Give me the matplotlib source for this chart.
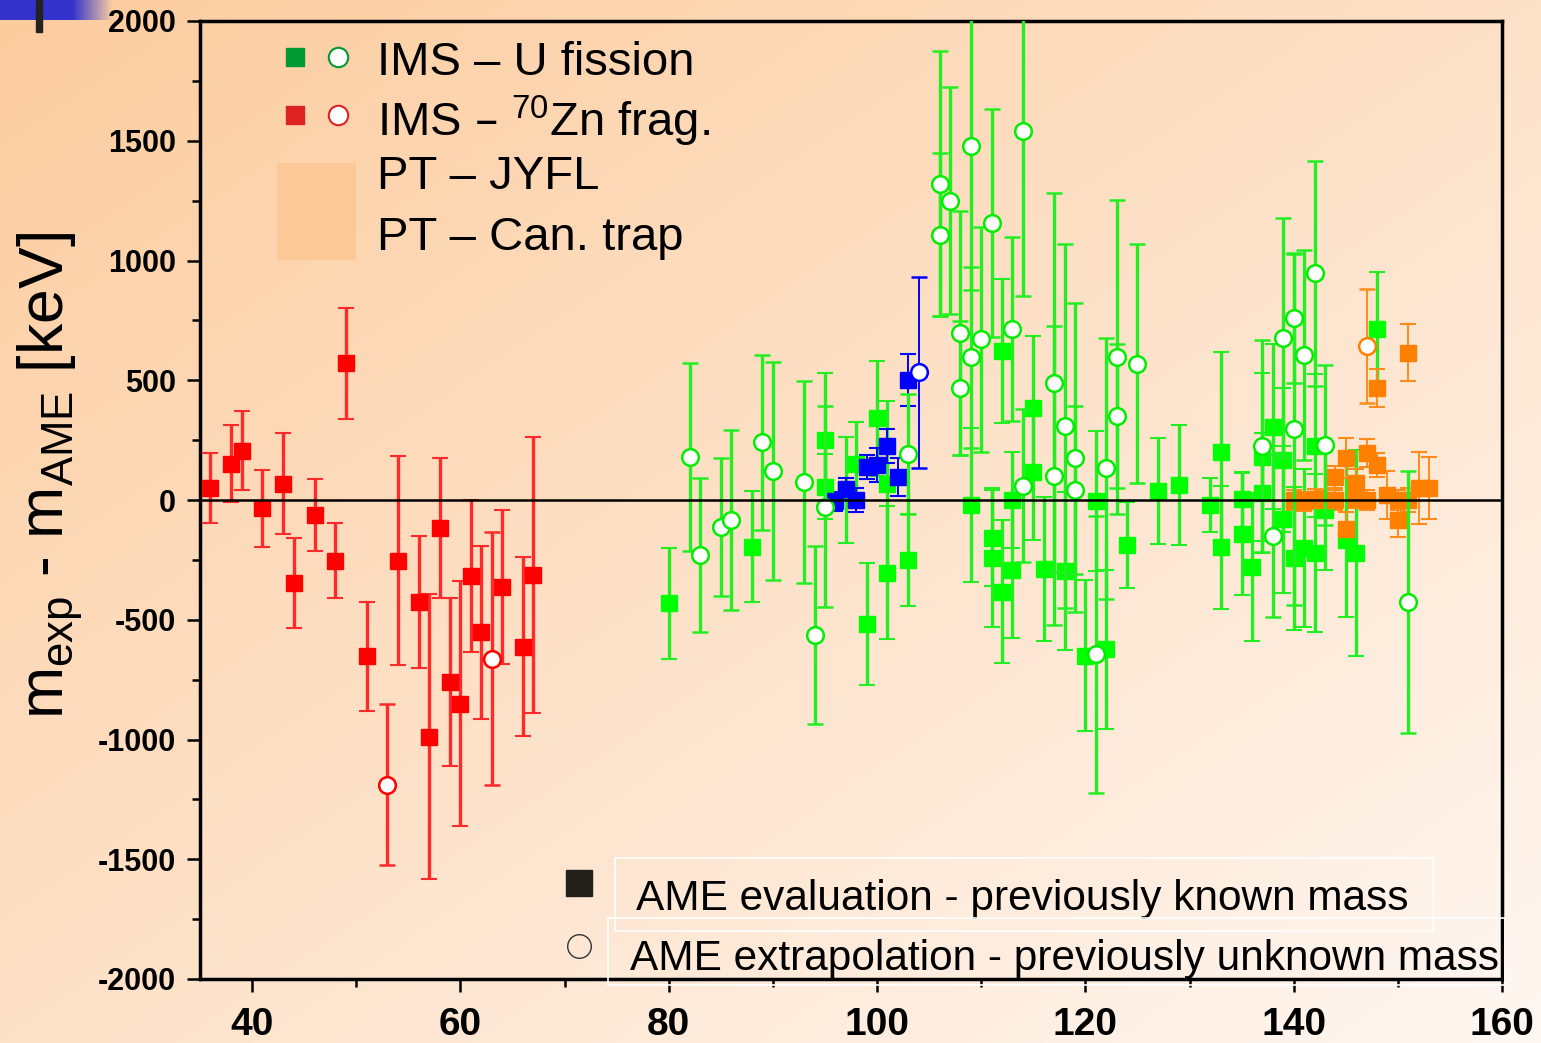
import numpy as np
import matplotlib
matplotlib.use('Agg')
import matplotlib.pyplot as plt
from matplotlib import font_manager
from matplotlib.patches import Rectangle

plt.rcParams['axes.unicode_minus'] = False

# mass number A, m_exp - m_AME [keV], uncertainty [keV]
# IMS - 70Zn fragmentation
red_known_A = [36, 38, 39, 41, 43, 44, 46, 48, 49, 51, 54, 56, 57, 58, 59, 60, 61, 62, 64, 66, 67]
red_known_dm = [50, 152, 206, -35, 68, -348, -61, -253, 570, -652, -253, -426, -989, -117, -761,
                -850, -317, -553, -362, -612, -314]
red_known_err = [145, 160, 165, 162, 210, 188, 150, 158, 230, 228, 436, 275, 595, 292, 350,
                 511, 318, 360, 322, 373, 577]
red_new_A = [53, 63]
red_new_dm = [-1189, -662]
red_new_err = [337, 529]

# IMS - U fission
green_known_A = [80, 88, 95, 95, 97, 98, 99, 100, 101, 101, 103, 109, 111, 111, 112, 112, 113, 113,
                 115, 115, 116, 118, 120, 121, 122, 124, 127, 129, 132, 133, 133, 135, 135, 136,
                 137, 137, 138, 139, 139, 140, 141, 142, 142, 143, 145, 146, 148]
green_known_dm = [-431, -195, 250, 56, 42, 150, -518, 342, 67, -303, -251, -21, -160, -241, 622,
                  -383, 0, -294, 383, 117, -288, -298, -650, -4, -624, -187, 38, 64, -21, 202,
                  -198, 3, -141, -278, 180, 29, 306, 167, -81, -244, -202, -223, 227, -42, -167,
                  -223, 713]
green_known_err = [231, 232, 280, 136, 222, 177, 255, 240, 345, 276, 192, 320, 200, 290, 300, 298,
                   200, 281, 300, 283, 300, 330, 316, 293, 333, 180, 222, 250, 112, 416, 256, 114,
                   254, 309, 350, 250, 344, 300, 306, 300, 330, 330, 300, 250, 320, 430, 238]
green_new_A = [82, 83, 85, 86, 89, 90, 93, 94, 95, 103, 106, 106, 107, 108, 108, 109, 109, 110,
               111, 113, 114, 114, 117, 117, 118, 119, 119, 121, 122, 123, 123, 125, 137, 138,
               139, 140, 140, 141, 142, 143, 151]
green_new_dm = [178, -230, -111, -84, 241, 122, 76, -564, -28, 192, 1321, 1108, 1250, 697, 469,
                1476, 596, 671, 1157, 714, 1540, 60, 490, 102, 309, 177, 43, -645, 132, 596, 351,
                569, 225, -150, 676, 759, 296, 605, 947, 230, -425]
green_new_err = [392, 322, 288, 376, 365, 456, 422, 372, 420, 250, 554, 340, 475, 510, 280, 600,
                 377, 470, 476, 383, 688, 320, 790, 625, 760, 645, 350, 578, 545, 655, 300, 500,
                 443, 340, 500, 270, 734, 440, 470, 333, 547]

# PT - JYFL
blue_known_A = [96, 97, 98, 99, 100, 101, 102, 103]
blue_known_dm = [-6, 46, 0, 136, 146, 225, 95, 501]
blue_known_err = [40, 45, 50, 50, 70, 70, 80, 108]
blue_new_A = [104]
blue_new_dm = [533]
blue_new_err = [400]

# PT - Can. trap
orange_known_A = [140, 141, 142, 143, 144, 144, 145, 145, 146, 146, 147, 147, 148, 148, 149, 150,
                  150, 151, 151, 152, 153]
orange_known_dm = [0, -5, 5, 0, 96, 0, 175, -122, 71, 5, 196, 0, 146, 467, 21, -84, 0, 615, 0,
                   50, 50]
orange_known_err = [40, 40, 40, 40, 45, 40, 85, 70, 60, 40, 60, 40, 50, 80, 100, 70, 40, 120,
                    50, 150, 130]
orange_new_A = [147]
orange_new_dm = [643]
orange_new_err = [240]

legend_labels = ['IMS – U fission', r'IMS – $^{\mathregular{70}}$Zn frag.', 'PT – JYFL',
                 'PT – Can. trap']
ame_labels = ['AME evaluation - previously known mass',
              'AME extrapolation - previously unknown mass']

names = {f.name for f in font_manager.fontManager.ttflist}
narrow = 'Liberation Sans Narrow' in names
sans = 'Liberation Sans'

W, H = 1541, 1043
fig = plt.figure(figsize=(W / 100, H / 100), dpi=100)

# slide background gradient + corner decoration
yy, xx = np.mgrid[0:H, 0:W]
t = 0.5 * xx / W + 0.5 * yy / H
c0 = np.array([252, 204, 158]) / 255
c1 = np.array([255, 247, 242]) / 255
img = c0 + (c1 - c0) * t[..., None]
band = np.clip((112 - xx) / 40, 0, 1) * (yy < 20)
img = img * (1 - band[..., None]) + np.array([0.2, 0.2, 0.8]) * band[..., None]
bg = fig.add_axes([0, 0, 1, 1], zorder=-10)
bg.imshow(img, aspect='auto', extent=[0, 1, 0, 1], interpolation='bilinear')
bg.axis('off')
fig.patches.append(Rectangle((36 / W, 1 - 32 / H), 6 / W, 32 / H, transform=fig.transFigure,
                             color='#222222', zorder=5))

ax = fig.add_axes([200 / W, 1 - 979 / H, 1302 / W, 958 / H])
ax.set_facecolor('none')


def draw(A, dm, err, color, ecolor, filled, lw):
    if filled:
        ax.errorbar(A, dm, yerr=err, fmt='s', ms=11.5, color=color, mec=color, ecolor=ecolor,
                    elinewidth=lw, capsize=6, capthick=1.5, zorder=3)
    else:
        ax.errorbar(A, dm, yerr=err, fmt='o', ms=12, mfc='white', mec=color, mew=1.8,
                    ecolor=ecolor, elinewidth=lw, capsize=6, capthick=1.5, zorder=4)


draw(green_known_A, green_known_dm, green_known_err, '#00ff00', '#22ee22', True, 2.4)
draw(green_new_A, green_new_dm, green_new_err, '#00ee00', '#22ee22', False, 2.4)
draw(blue_known_A, blue_known_dm, blue_known_err, '#0000ff', '#0000ff', True, 1.4)
draw(blue_new_A, blue_new_dm, blue_new_err, '#0000ff', '#0000ff', False, 1.4)
draw(orange_known_A, orange_known_dm, orange_known_err, '#ff8000', '#ff8c1a', True, 1.4)
draw(orange_new_A, orange_new_dm, orange_new_err, '#ff8000', '#ff8c1a', False, 1.4)
draw(red_known_A, red_known_dm, red_known_err, '#ff0000', '#ff2a2a', True, 2.4)
draw(red_new_A, red_new_dm, red_new_err, '#ff0000', '#ff2a2a', False, 2.4)

ax.axhline(0, color='black', lw=1.8, zorder=6)

ax.set_xlim(35, 160)
ax.set_ylim(-2000, 2000)
ax.set_xticks(np.arange(40, 161, 20))
ax.set_xticks(np.arange(40, 161, 10), minor=True)
ax.set_yticks(np.arange(-2000, 2001, 500))
ax.set_yticks(np.arange(-2000, 2001, 250), minor=True)
ax.tick_params(which='major', direction='out', length=9.5, width=1.8)
ax.tick_params(which='minor', direction='out', length=5.5, width=1.8)
ax.tick_params(axis='y', pad=8)
ax.tick_params(axis='x', pad=11)
for lab in ax.get_yticklabels():
    lab.set_fontfamily(sans)
    lab.set_fontweight('bold')
    lab.set_fontsize(22)
for lab in ax.get_xticklabels():
    lab.set_fontfamily(sans)
    lab.set_fontweight('bold')
    lab.set_fontsize(28)
for sp in ax.spines.values():
    sp.set_linewidth(2.5)

ylab = r'm$_{\mathregular{exp}}$ - m$_{\mathregular{AME}}$ [keV]'
if narrow:
    fig.text(50 / W, 1 - 476 / H, ylab, rotation=90, ha='center', va='center',
             fontsize=55, family='Liberation Sans Narrow')
else:
    fig.text(50 / W, 1 - 476 / H, ylab, rotation=90, ha='center', va='center',
             fontsize=45, family=sans)

# legend (top left)
ax.plot(0.073, 0.9624, 's', ms=13, color='#009933', transform=ax.transAxes, clip_on=False)
ax.plot(0.106, 0.9624, 'o', ms=14, mfc='white', mec='#009933', mew=1.5,
        transform=ax.transAxes, clip_on=False)
ax.plot(0.073, 0.9019, 's', ms=13, color='#dd2222', transform=ax.transAxes, clip_on=False)
ax.plot(0.106, 0.9019, 'o', ms=14, mfc='white', mec='#dd2222', mew=1.5,
        transform=ax.transAxes, clip_on=False)
ax.add_patch(Rectangle((0.0591, 0.7505), 0.0607, 0.1013, transform=ax.transAxes,
                       color='#fdc897', lw=0, zorder=7))
for lab, yv in zip(legend_labels, [0.956, 0.895, 0.837, 0.773]):
    ax.text(0.136, yv, lab, transform=ax.transAxes, fontsize=34, family=sans,
            va='center', ha='left', zorder=8)

# AME legend (bottom)
ax.plot(0.291, 0.1002, 's', ms=19, color='#231f1a', transform=ax.transAxes, zorder=8)
ax.plot(0.291, 0.0344, 'o', ms=17, mfc='none', mec='#333333', mew=1.0,
        transform=ax.transAxes, zorder=8)
fig.patches.append(Rectangle((615 / W, 1 - 931 / H), 818 / W, 73 / H, transform=fig.transFigure,
                             fill=False, ec='white', lw=1.2))
fig.patches.append(Rectangle((608 / W, 1 - 985 / H), 897 / W, 67 / H, transform=fig.transFigure,
                             fill=False, ec='white', lw=1.2))
ax.text(0.335, 0.0836, ame_labels[0], transform=ax.transAxes, fontsize=30.5, family=sans,
        va='center', ha='left', zorder=8)
ax.text(0.330, 0.021, ame_labels[1], transform=ax.transAxes, fontsize=30.5, family=sans,
        va='center', ha='left', zorder=8)

fig.savefig('out.png', dpi=100)
